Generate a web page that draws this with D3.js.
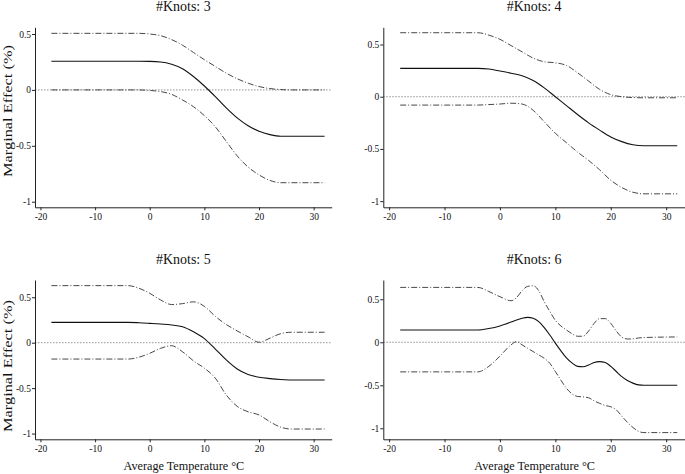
<!DOCTYPE html>
<html>
<head>
<meta charset="utf-8">
<script src="https://cdn.jsdelivr.net/npm/d3@7"></script>
<style>
  html, body { margin: 0; padding: 0; background: #fff; }
  svg { display: block; }
  text { font-family: "Liberation Serif", "Times New Roman", serif; fill: #111; }
</style>
</head>
<body>
<script>
// ---------------- data ----------------
const panelTitles = ["#Knots: 3", "#Knots: 4", "#Knots: 5", "#Knots: 6"];
const xTicks = [-20, -10, 0, 10, 20, 30];
const xTickLabels = ["-20", "-10", "0", "10", "20", "30"];
const yTicks = [-1, -0.5, 0, 0.5];
const yTickLabels = ["-1", "-0.5", "0", "0.5"];
const xAxisTitle = "Average Temperature \u00B0C";
const yAxisTitle = "Marginal Effect (%)";

// Knots: 3
const temp3 = [-18, -2, 0, 2, 4, 6, 8, 10, 12, 14, 16, 18, 20, 22, 24, 26, 32];
const est3  = [0.256, 0.256, 0.255, 0.25, 0.23, 0.19, 0.12, 0.035, -0.06, -0.16, -0.25, -0.32, -0.37, -0.40, -0.415, -0.415, -0.415];
const upper3 = [0.506, 0.506, 0.50, 0.485, 0.45, 0.40, 0.335, 0.27, 0.21, 0.15, 0.10, 0.06, 0.03, 0.012, 0.003, 0.0, 0.0];
const lower3 = [0.0, 0.0, -0.005, -0.015, -0.04, -0.09, -0.15, -0.23, -0.33, -0.46, -0.59, -0.69, -0.76, -0.81, -0.83, -0.83, -0.83];

// Knots: 4
const temp4 = [-18, -4, -2, 0, 2, 4, 6, 8, 10, 12, 14, 16, 18, 20, 22, 24, 26, 32];
const est4  = [0.272, 0.272, 0.265, 0.246, 0.225, 0.20, 0.155, 0.085, 0.0, -0.085, -0.17, -0.25, -0.32, -0.385, -0.43, -0.46, -0.47, -0.47];
const upper4 = [0.613, 0.613, 0.59, 0.55, 0.49, 0.43, 0.37, 0.335, 0.325, 0.30, 0.23, 0.15, 0.07, 0.02, 0.0, -0.008, -0.01, -0.01];
const lower4 = [-0.08, -0.08, -0.075, -0.07, -0.062, -0.07, -0.13, -0.24, -0.35, -0.44, -0.53, -0.61, -0.70, -0.80, -0.87, -0.915, -0.93, -0.93];

// Knots: 5
const temp5 = [-18, -4, -2, 0, 2, 4, 6, 8, 10, 12, 14, 16, 18, 20, 22, 24, 26, 32];
const est5  = [0.224, 0.224, 0.22, 0.213, 0.205, 0.195, 0.175, 0.12, 0.045, -0.07, -0.19, -0.29, -0.35, -0.38, -0.395, -0.405, -0.41, -0.41];
const upper5 = [0.628, 0.628, 0.60, 0.544, 0.47, 0.42, 0.43, 0.45, 0.40, 0.29, 0.20, 0.13, 0.065, 0.005, 0.05, 0.10, 0.115, 0.115];
const lower5 = [-0.18, -0.18, -0.16, -0.117, -0.062, -0.033, -0.10, -0.20, -0.28, -0.39, -0.575, -0.70, -0.76, -0.795, -0.87, -0.93, -0.95, -0.95];

// Knots: 6
const temp6 = [-18, -4, -2, 0, 2, 3, 4, 5, 6, 7, 8, 9, 10, 11, 12, 13, 14, 15, 16, 17, 18, 19, 20, 21, 22, 23, 24, 25, 26, 32];
const est6  = [0.143, 0.143, 0.16, 0.19, 0.235, 0.26, 0.28, 0.29, 0.28, 0.24, 0.17, 0.085, -0.01, -0.10, -0.18, -0.24, -0.28, -0.285, -0.265, -0.235, -0.225, -0.235, -0.28, -0.34, -0.40, -0.445, -0.475, -0.495, -0.50, -0.50];
const upper6 = [0.638, 0.638, 0.59, 0.53, 0.483, 0.52, 0.60, 0.65, 0.657, 0.60, 0.47, 0.36, 0.255, 0.19, 0.143, 0.10, 0.07, 0.07, 0.13, 0.22, 0.275, 0.275, 0.22, 0.13, 0.06, 0.038, 0.04, 0.05, 0.055, 0.062];
const lower6 = [-0.344, -0.344, -0.28, -0.16, -0.03, 0.008, -0.03, -0.07, -0.108, -0.147, -0.186, -0.244, -0.34, -0.44, -0.534, -0.60, -0.63, -0.635, -0.645, -0.68, -0.71, -0.735, -0.75, -0.785, -0.86, -0.93, -0.99, -1.035, -1.05, -1.05];

const panelData = [
  { temp: temp3, est: est3, upper: upper3, lower: lower3 },
  { temp: temp4, est: est4, upper: upper4, lower: lower4 },
  { temp: temp5, est: est5, upper: upper5, lower: lower5 },
  { temp: temp6, est: est6, upper: upper6, lower: lower6 }
];

// ---------------- layout ----------------
const layout = [
  { px: [35, 331.7],   xd: [-21, 33.3],    py: [207.3, 27.3], yd: [-1.05, 0.56],   titleY: 11,    ylab: 111, xlab: false },
  { px: [383.3, 685],  xd: [-21.05, 33.4], py: [207.3, 27.3], yd: [-1.059, 0.665], titleY: 11,    ylab: null, xlab: false },
  { px: [35, 331.7],   xd: [-21, 33.3],    py: [439.3, 280],  yd: [-1.063, 0.69],  titleY: 263.5, ylab: 366, xlab: true },
  { px: [383.3, 685],  xd: [-21.05, 33.4], py: [439.3, 280],  yd: [-1.128, 0.724], titleY: 263.5, ylab: null, xlab: true }
];

const svg = d3.select("body").append("svg").attr("width", 685).attr("height", 474);

layout.forEach((L, i) => {
  const D = panelData[i];
  const x = d3.scaleLinear().domain(L.xd).range(L.px);
  const y = d3.scaleLinear().domain(L.yd).range(L.py);
  const g = svg.append("g");

  // zero reference line
  g.append("line")
    .attr("x1", L.px[0]).attr("x2", L.px[1])
    .attr("y1", y(0)).attr("y2", y(0))
    .attr("stroke", "#777").attr("stroke-width", 0.8)
    .attr("stroke-dasharray", "1.5,1.5");

  const pts = key => D.temp.map((t, j) => [t, D[key][j]]);
  const line = d3.line().x(d => x(d[0])).y(d => y(d[1])).curve(d3.curveMonotoneX);

  ["upper", "lower"].forEach(k => {
    g.append("path").attr("d", line(pts(k)))
      .attr("fill", "none").attr("stroke", "#333").attr("stroke-width", 0.9)
      .attr("stroke-dasharray", "6,2,1,2");
  });
  g.append("path").attr("d", line(pts("est")))
    .attr("fill", "none").attr("stroke", "#111").attr("stroke-width", 1.1);

  // axes
  const xa = g.append("g").attr("transform", `translate(0,${L.py[0]})`)
    .call(d3.axisBottom(x).tickValues(xTicks).tickSize(3).tickPadding(2.5).tickSizeOuter(0)
      .tickFormat(d => xTickLabels[xTicks.indexOf(d)]));
  const ya = g.append("g").attr("transform", `translate(${L.px[0]},0)`)
    .call(d3.axisLeft(y).tickValues(yTicks).tickSize(3).tickPadding(1).tickSizeOuter(0)
      .tickFormat(d => yTickLabels[yTicks.indexOf(d)]));
  [xa, ya].forEach(a => {
    a.select(".domain").attr("stroke", "#222").attr("stroke-width", 1);
    a.selectAll(".tick line").attr("stroke", "#222");
    a.selectAll(".tick text").attr("font-family", "Liberation Serif, Times New Roman, serif")
      .attr("font-size", 9.5).attr("fill", "#111");
  });

  // title
  g.append("text")
    .attr("x", (L.px[0] + L.px[1]) / 2).attr("y", L.titleY)
    .attr("text-anchor", "middle").attr("font-size", 14)
    .text(panelTitles[i]);

  if (L.ylab !== null) {
    g.append("text")
      .attr("transform", `translate(12,${L.ylab}) rotate(-90)`)
      .attr("text-anchor", "middle").attr("font-size", 13)
      .attr("textLength", 132).attr("lengthAdjust", "spacingAndGlyphs")
      .text(yAxisTitle);
  }
  if (L.xlab) {
    g.append("text")
      .attr("x", (L.px[0] + L.px[1]) / 2 + 0.5).attr("y", 470)
      .attr("text-anchor", "middle").attr("font-size", 12.2)
      .text(xAxisTitle);
  }
});
</script>
</body>
</html>
